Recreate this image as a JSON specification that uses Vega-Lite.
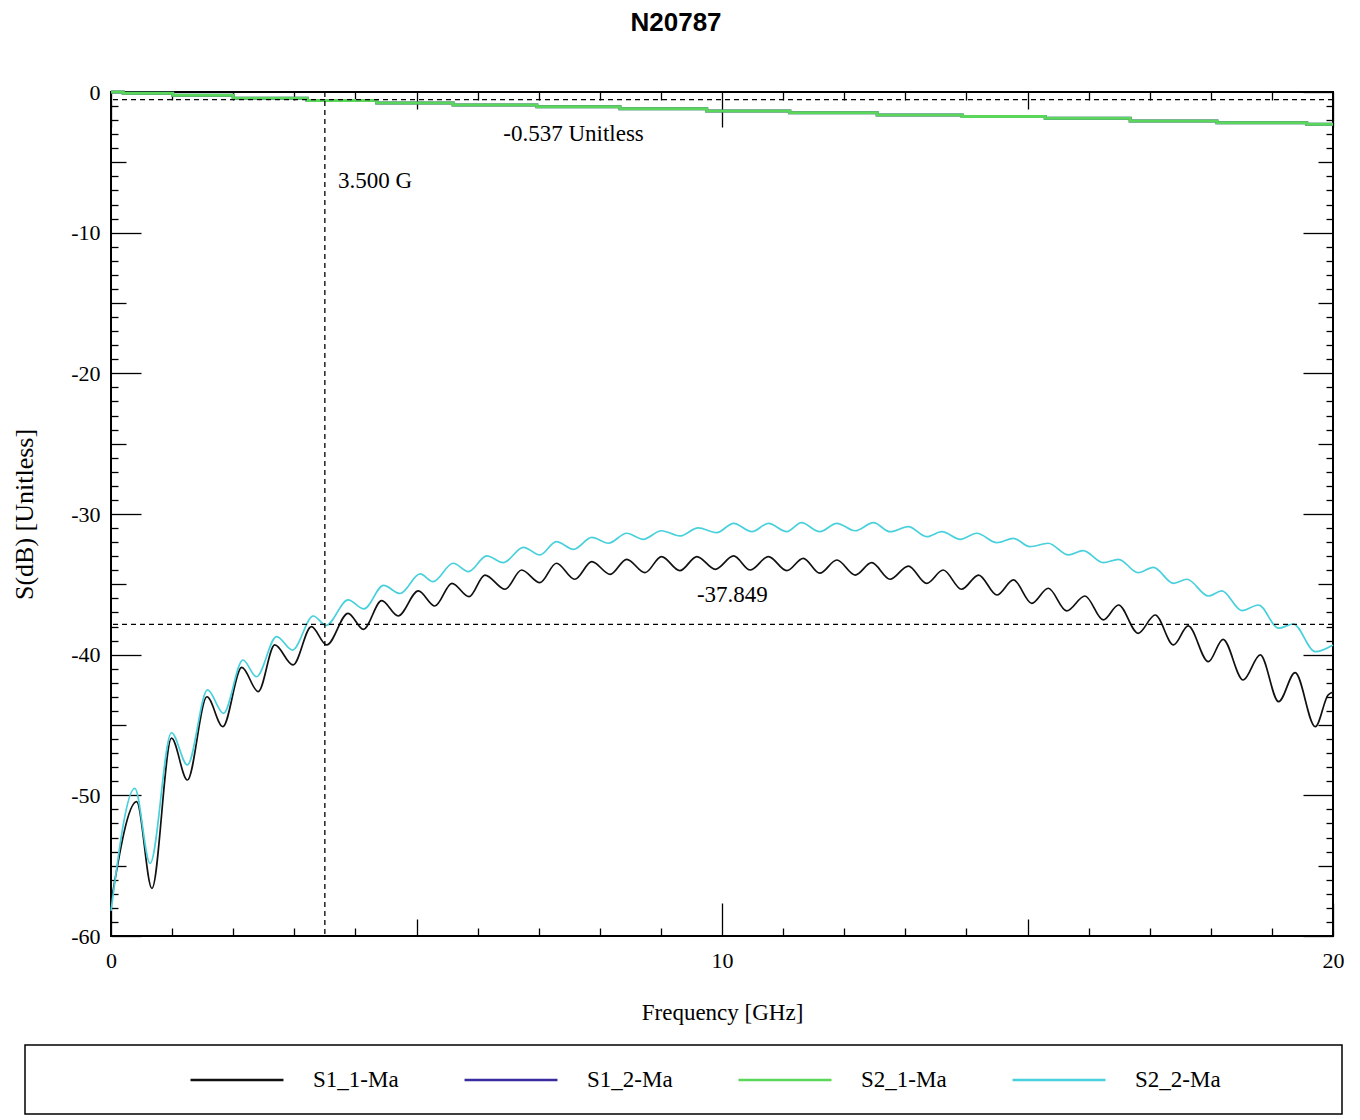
{
  "$schema": "https://vega.github.io/schema/vega-lite/v6.json",
  "width": 1222,
  "height": 844,
  "autosize": {"type": "none"},
  "padding": {"left": 111, "top": 92, "right": 27, "bottom": 184},
  "background": "white",
  "title": {"text": "N20787", "font": "Liberation Sans", "fontSize": 26, "fontWeight": "bold", "color": "#000", "anchor": "middle", "frame": "group", "dx": -46, "offset": 45},
  "datasets": {
    "smooth": [
      {"series": "S1_1-Ma", "f": 0, "db": -57.65}, {"series": "S1_1-Ma", "f": 0.42, "db": -50.45}, {"series": "S1_1-Ma", "f": 0.67, "db": -56.61}, {"series": "S1_1-Ma", "f": 0.99, "db": -45.94}, {"series": "S1_1-Ma", "f": 1.25, "db": -48.91}, {"series": "S1_1-Ma", "f": 1.57, "db": -42.99}, {"series": "S1_1-Ma", "f": 1.83, "db": -45.12}, {"series": "S1_1-Ma", "f": 2.14, "db": -40.9}, {"series": "S1_1-Ma", "f": 2.41, "db": -42.63}, {"series": "S1_1-Ma", "f": 2.68, "db": -39.31}, {"series": "S1_1-Ma", "f": 2.98, "db": -40.73}, {"series": "S1_1-Ma", "f": 3.28, "db": -38.01}, {"series": "S1_1-Ma", "f": 3.53, "db": -39.31}, {"series": "S1_1-Ma", "f": 3.88, "db": -37.06}, {"series": "S1_1-Ma", "f": 4.13, "db": -38.2}, {"series": "S1_1-Ma", "f": 4.43, "db": -36.16}, {"series": "S1_1-Ma", "f": 4.7, "db": -37.25}, {"series": "S1_1-Ma", "f": 5.03, "db": -35.47}, {"series": "S1_1-Ma", "f": 5.3, "db": -36.54}, {"series": "S1_1-Ma", "f": 5.58, "db": -34.93}, {"series": "S1_1-Ma", "f": 5.86, "db": -35.88}, {"series": "S1_1-Ma", "f": 6.12, "db": -34.34}, {"series": "S1_1-Ma", "f": 6.45, "db": -35.35}, {"series": "S1_1-Ma", "f": 6.72, "db": -33.98}, {"series": "S1_1-Ma", "f": 7.02, "db": -34.88}, {"series": "S1_1-Ma", "f": 7.29, "db": -33.5}, {"series": "S1_1-Ma", "f": 7.59, "db": -34.64}, {"series": "S1_1-Ma", "f": 7.87, "db": -33.39}, {"series": "S1_1-Ma", "f": 8.17, "db": -34.29}, {"series": "S1_1-Ma", "f": 8.44, "db": -33.22}, {"series": "S1_1-Ma", "f": 8.74, "db": -34.17}, {"series": "S1_1-Ma", "f": 9.01, "db": -33.03}, {"series": "S1_1-Ma", "f": 9.31, "db": -34.03}, {"series": "S1_1-Ma", "f": 9.59, "db": -33.03}, {"series": "S1_1-Ma", "f": 9.89, "db": -33.93}, {"series": "S1_1-Ma", "f": 10.19, "db": -32.98}, {"series": "S1_1-Ma", "f": 10.46, "db": -33.98}, {"series": "S1_1-Ma", "f": 10.76, "db": -33.03}, {"series": "S1_1-Ma", "f": 11.06, "db": -34.03}, {"series": "S1_1-Ma", "f": 11.33, "db": -33.15}, {"series": "S1_1-Ma", "f": 11.6, "db": -34.21}, {"series": "S1_1-Ma", "f": 11.88, "db": -33.27}, {"series": "S1_1-Ma", "f": 12.18, "db": -34.34}, {"series": "S1_1-Ma", "f": 12.45, "db": -33.46}, {"series": "S1_1-Ma", "f": 12.75, "db": -34.64}, {"series": "S1_1-Ma", "f": 13.05, "db": -33.7}, {"series": "S1_1-Ma", "f": 13.35, "db": -34.93}, {"series": "S1_1-Ma", "f": 13.62, "db": -33.98}, {"series": "S1_1-Ma", "f": 13.92, "db": -35.35}, {"series": "S1_1-Ma", "f": 14.2, "db": -34.34}, {"series": "S1_1-Ma", "f": 14.5, "db": -35.76}, {"series": "S1_1-Ma", "f": 14.77, "db": -34.69}, {"series": "S1_1-Ma", "f": 15.07, "db": -36.35}, {"series": "S1_1-Ma", "f": 15.34, "db": -35.28}, {"series": "S1_1-Ma", "f": 15.64, "db": -36.89}, {"series": "S1_1-Ma", "f": 15.94, "db": -35.83}, {"series": "S1_1-Ma", "f": 16.24, "db": -37.53}, {"series": "S1_1-Ma", "f": 16.49, "db": -36.47}, {"series": "S1_1-Ma", "f": 16.81, "db": -38.48}, {"series": "S1_1-Ma", "f": 17.09, "db": -37.18}, {"series": "S1_1-Ma", "f": 17.39, "db": -39.31}, {"series": "S1_1-Ma", "f": 17.63, "db": -37.96}, {"series": "S1_1-Ma", "f": 17.96, "db": -40.5}, {"series": "S1_1-Ma", "f": 18.2, "db": -38.91}, {"series": "S1_1-Ma", "f": 18.53, "db": -41.8}, {"series": "S1_1-Ma", "f": 18.81, "db": -40.02}, {"series": "S1_1-Ma", "f": 19.11, "db": -43.34}, {"series": "S1_1-Ma", "f": 19.38, "db": -41.28}, {"series": "S1_1-Ma", "f": 19.71, "db": -45.12}, {"series": "S1_1-Ma", "f": 19.92, "db": -42.87}, {"series": "S1_1-Ma", "f": 20, "db": -42.65},
      {"series": "S2_2-Ma", "f": 0, "db": -58.22}, {"series": "S2_2-Ma", "f": 0.39, "db": -49.5}, {"series": "S2_2-Ma", "f": 0.64, "db": -54.83}, {"series": "S2_2-Ma", "f": 0.99, "db": -45.55}, {"series": "S2_2-Ma", "f": 1.25, "db": -47.84}, {"series": "S2_2-Ma", "f": 1.58, "db": -42.51}, {"series": "S2_2-Ma", "f": 1.84, "db": -44.17}, {"series": "S2_2-Ma", "f": 2.16, "db": -40.38}, {"series": "S2_2-Ma", "f": 2.38, "db": -41.57}, {"series": "S2_2-Ma", "f": 2.71, "db": -38.72}, {"series": "S2_2-Ma", "f": 2.97, "db": -39.67}, {"series": "S2_2-Ma", "f": 3.31, "db": -37.25}, {"series": "S2_2-Ma", "f": 3.52, "db": -37.92}, {"series": "S2_2-Ma", "f": 3.88, "db": -36.11}, {"series": "S2_2-Ma", "f": 4.14, "db": -36.75}, {"series": "S2_2-Ma", "f": 4.46, "db": -35.08}, {"series": "S2_2-Ma", "f": 4.73, "db": -35.65}, {"series": "S2_2-Ma", "f": 5.06, "db": -34.26}, {"series": "S2_2-Ma", "f": 5.27, "db": -34.81}, {"series": "S2_2-Ma", "f": 5.6, "db": -33.5}, {"series": "S2_2-Ma", "f": 5.85, "db": -34.1}, {"series": "S2_2-Ma", "f": 6.15, "db": -32.98}, {"series": "S2_2-Ma", "f": 6.42, "db": -33.46}, {"series": "S2_2-Ma", "f": 6.75, "db": -32.37}, {"series": "S2_2-Ma", "f": 7.02, "db": -32.91}, {"series": "S2_2-Ma", "f": 7.29, "db": -31.97}, {"series": "S2_2-Ma", "f": 7.57, "db": -32.51}, {"series": "S2_2-Ma", "f": 7.87, "db": -31.66}, {"series": "S2_2-Ma", "f": 8.14, "db": -32.08}, {"series": "S2_2-Ma", "f": 8.44, "db": -31.37}, {"series": "S2_2-Ma", "f": 8.71, "db": -31.8}, {"series": "S2_2-Ma", "f": 9.01, "db": -31.19}, {"series": "S2_2-Ma", "f": 9.31, "db": -31.56}, {"series": "S2_2-Ma", "f": 9.61, "db": -30.99}, {"series": "S2_2-Ma", "f": 9.91, "db": -31.33}, {"series": "S2_2-Ma", "f": 10.19, "db": -30.66}, {"series": "S2_2-Ma", "f": 10.49, "db": -31.26}, {"series": "S2_2-Ma", "f": 10.76, "db": -30.66}, {"series": "S2_2-Ma", "f": 11.06, "db": -31.26}, {"series": "S2_2-Ma", "f": 11.3, "db": -30.62}, {"series": "S2_2-Ma", "f": 11.6, "db": -31.26}, {"series": "S2_2-Ma", "f": 11.88, "db": -30.66}, {"series": "S2_2-Ma", "f": 12.18, "db": -31.19}, {"series": "S2_2-Ma", "f": 12.48, "db": -30.62}, {"series": "S2_2-Ma", "f": 12.75, "db": -31.26}, {"series": "S2_2-Ma", "f": 13.05, "db": -30.9}, {"series": "S2_2-Ma", "f": 13.35, "db": -31.61}, {"series": "S2_2-Ma", "f": 13.6, "db": -31.26}, {"series": "S2_2-Ma", "f": 13.9, "db": -31.8}, {"series": "S2_2-Ma", "f": 14.17, "db": -31.37}, {"series": "S2_2-Ma", "f": 14.5, "db": -32.04}, {"series": "S2_2-Ma", "f": 14.77, "db": -31.73}, {"series": "S2_2-Ma", "f": 15.04, "db": -32.32}, {"series": "S2_2-Ma", "f": 15.34, "db": -32.08}, {"series": "S2_2-Ma", "f": 15.67, "db": -32.91}, {"series": "S2_2-Ma", "f": 15.91, "db": -32.61}, {"series": "S2_2-Ma", "f": 16.24, "db": -33.46}, {"series": "S2_2-Ma", "f": 16.49, "db": -33.22}, {"series": "S2_2-Ma", "f": 16.81, "db": -34.17}, {"series": "S2_2-Ma", "f": 17.06, "db": -33.79}, {"series": "S2_2-Ma", "f": 17.39, "db": -34.93}, {"series": "S2_2-Ma", "f": 17.61, "db": -34.64}, {"series": "S2_2-Ma", "f": 17.96, "db": -35.83}, {"series": "S2_2-Ma", "f": 18.18, "db": -35.47}, {"series": "S2_2-Ma", "f": 18.51, "db": -36.87}, {"series": "S2_2-Ma", "f": 18.78, "db": -36.47}, {"series": "S2_2-Ma", "f": 19.11, "db": -38.12}, {"series": "S2_2-Ma", "f": 19.35, "db": -37.82}, {"series": "S2_2-Ma", "f": 19.71, "db": -39.79}, {"series": "S2_2-Ma", "f": 20, "db": -39.31}
    ],
    "steps": [
      {"series": "S1_2-Ma", "f": 0, "db": 0}, {"series": "S1_2-Ma", "f": 0.2, "db": -0.09}, {"series": "S1_2-Ma", "f": 1.01, "db": -0.23}, {"series": "S1_2-Ma", "f": 2.0, "db": -0.45}, {"series": "S1_2-Ma", "f": 3.21, "db": -0.6}, {"series": "S1_2-Ma", "f": 4.35, "db": -0.78}, {"series": "S1_2-Ma", "f": 5.6, "db": -0.92}, {"series": "S1_2-Ma", "f": 6.97, "db": -1.05}, {"series": "S1_2-Ma", "f": 8.33, "db": -1.19}, {"series": "S1_2-Ma", "f": 9.75, "db": -1.35}, {"series": "S1_2-Ma", "f": 11.11, "db": -1.47}, {"series": "S1_2-Ma", "f": 12.54, "db": -1.64}, {"series": "S1_2-Ma", "f": 13.93, "db": -1.74}, {"series": "S1_2-Ma", "f": 15.29, "db": -1.87}, {"series": "S1_2-Ma", "f": 16.68, "db": -2.06}, {"series": "S1_2-Ma", "f": 18.1, "db": -2.18}, {"series": "S1_2-Ma", "f": 19.57, "db": -2.3}, {"series": "S1_2-Ma", "f": 20, "db": -2.3},
      {"series": "S2_1-Ma", "f": 0, "db": 0}, {"series": "S2_1-Ma", "f": 0.2, "db": -0.09}, {"series": "S2_1-Ma", "f": 1.01, "db": -0.23}, {"series": "S2_1-Ma", "f": 2.0, "db": -0.45}, {"series": "S2_1-Ma", "f": 3.21, "db": -0.6}, {"series": "S2_1-Ma", "f": 4.35, "db": -0.78}, {"series": "S2_1-Ma", "f": 5.6, "db": -0.92}, {"series": "S2_1-Ma", "f": 6.97, "db": -1.05}, {"series": "S2_1-Ma", "f": 8.33, "db": -1.19}, {"series": "S2_1-Ma", "f": 9.75, "db": -1.35}, {"series": "S2_1-Ma", "f": 11.11, "db": -1.47}, {"series": "S2_1-Ma", "f": 12.54, "db": -1.64}, {"series": "S2_1-Ma", "f": 13.93, "db": -1.74}, {"series": "S2_1-Ma", "f": 15.29, "db": -1.87}, {"series": "S2_1-Ma", "f": 16.68, "db": -2.06}, {"series": "S2_1-Ma", "f": 18.1, "db": -2.18}, {"series": "S2_1-Ma", "f": 19.57, "db": -2.3}, {"series": "S2_1-Ma", "f": 20, "db": -2.3}
    ],
    "vmarker": [{"f": 3.5}],
    "hmarker": [{"db": -37.849}, {"db": -0.537}],
    "notes": [
      {"f": 3.715, "db": -6.33, "label": "3.500 G"},
      {"f": 6.42, "db": -2.99, "label": "-0.537 Unitless"},
      {"f": 9.59, "db": -35.76, "label": "-37.849"}
    ]
  },
  "layer": [
    {
      "data": {"name": "smooth"},
      "mark": {"type": "line", "interpolate": "monotone", "strokeWidth": 1.7},
      "encoding": {
        "x": {"field": "f", "type": "quantitative", "scale": {"domain": [0, 20], "nice": false, "zero": false},
          "axis": {"orient": "bottom", "values": [0,1,2,3,4,5,6,7,8,9,10,11,12,13,14,15,16,17,18,19,20],
            "labelExpr": "datum.value % 10 === 0 ? datum.label : ''",
            "tickSize": {"expr": "datum.value % 10 === 0 ? -33 : (datum.value % 5 === 0 ? -17 : -8)"},
            "labelPadding": 47, "title": "Frequency [GHz]", "titlePadding": 5, "titleFontSize": 23}},
        "y": {"field": "db", "type": "quantitative", "scale": {"domain": [-60, 0], "nice": false, "zero": false},
          "axis": {"orient": "left", "values": [-60,-59,-58,-57,-56,-55,-54,-53,-52,-51,-50,-49,-48,-47,-46,-45,-44,-43,-42,-41,-40,-39,-38,-37,-36,-35,-34,-33,-32,-31,-30,-29,-28,-27,-26,-25,-24,-23,-22,-21,-20,-19,-18,-17,-16,-15,-14,-13,-12,-11,-10,-9,-8,-7,-6,-5,-4,-3,-2,-1,0],
            "labelExpr": "datum.value % 10 === 0 ? '' + datum.value : ''",
            "tickSize": {"expr": "datum.value % 10 === 0 ? -30 : (datum.value % 5 === 0 ? -15 : -7)"},
            "labelPadding": 41, "title": "S(dB) [Unitless]", "titlePadding": 33, "titleFontSize": 26}},
        "color": {"field": "series", "type": "nominal",
          "scale": {"domain": ["S1_1-Ma", "S1_2-Ma", "S2_1-Ma", "S2_2-Ma"], "range": ["#111111", "#3a2ca0", "#5ad65a", "#48d0dc"]},
          "legend": {"orient": "none", "legendX": -86, "legendY": 953, "direction": "horizontal", "columns": 4,
            "title": "\u00a0", "titleOrient": "left", "titlePadding": 177, "titleFont": "Liberation Serif", "titleFontSize": 23,
            "padding": 22, "strokeColor": "#000", "fillColor": "#fff",
            "symbolType": "M-4,0L4,0M22.03,0", "symbolSize": 540, "symbolStrokeWidth": 2.5,
            "labelFont": "Liberation Serif", "labelFontSize": 23, "labelColor": "#000", "labelOffset": 63, "columnPadding": -72, "labelLimit": 400,
            "encode": {"legend": {"update": {"strokeWidth": {"value": 1.5}}}}}}
      }
    },
    {
      "data": {"name": "steps"},
      "mark": {"type": "line", "interpolate": "step-after", "strokeWidth": 3},
      "encoding": {
        "x": {"field": "f", "type": "quantitative", "scale": {"domain": [0, 20], "nice": false, "zero": false}, "axis": null},
        "y": {"field": "db", "type": "quantitative", "scale": {"domain": [-60, 0], "nice": false, "zero": false}, "axis": null},
        "color": {"field": "series", "type": "nominal"}
      }
    },
    {
      "data": {"name": "vmarker"},
      "mark": {"type": "rule", "color": "#000", "strokeDash": [5, 4], "strokeWidth": 1.3},
      "encoding": {
        "x": {"field": "f", "type": "quantitative", "scale": {"domain": [0, 20], "nice": false, "zero": false},
          "axis": {"orient": "top", "values": [0,1,2,3,4,5,6,7,8,9,10,11,12,13,14,15,16,17,18,19,20], "labels": false, "title": null,
            "tickSize": {"expr": "datum.value % 10 === 0 ? -35 : (datum.value % 5 === 0 ? -17 : -8)"}}}
      }
    },
    {
      "data": {"name": "hmarker"},
      "mark": {"type": "rule", "color": "#000", "strokeDash": [5, 4], "strokeWidth": 1.3},
      "encoding": {
        "y": {"field": "db", "type": "quantitative", "scale": {"domain": [-60, 0], "nice": false, "zero": false},
          "axis": {"orient": "right", "values": [-60,-59,-58,-57,-56,-55,-54,-53,-52,-51,-50,-49,-48,-47,-46,-45,-44,-43,-42,-41,-40,-39,-38,-37,-36,-35,-34,-33,-32,-31,-30,-29,-28,-27,-26,-25,-24,-23,-22,-21,-20,-19,-18,-17,-16,-15,-14,-13,-12,-11,-10,-9,-8,-7,-6,-5,-4,-3,-2,-1,0], "labels": false, "title": null,
            "tickSize": {"expr": "datum.value % 10 === 0 ? -30 : (datum.value % 5 === 0 ? -15 : -7)"}}}
      }
    },
    {
      "data": {"name": "notes"},
      "mark": {"type": "text", "align": "left", "baseline": "middle", "font": "Liberation Serif", "fontSize": 23, "color": "#000"},
      "encoding": {
        "x": {"field": "f", "type": "quantitative", "scale": {"domain": [0, 20], "nice": false, "zero": false}, "axis": null},
        "y": {"field": "db", "type": "quantitative", "scale": {"domain": [-60, 0], "nice": false, "zero": false}, "axis": null},
        "text": {"field": "label"}
      }
    }
  ],
  "resolve": {"axis": {"x": "independent", "y": "independent"}},
  "config": {
    "view": {"stroke": "#000", "strokeWidth": 2},
    "axis": {"grid": false, "domain": false, "labelFont": "Liberation Serif", "labelFontSize": 22, "labelColor": "#000",
      "titleFont": "Liberation Serif", "titleColor": "#000", "titleFontWeight": "normal", "tickColor": "#000", "tickWidth": 1.3,
      "labelFlush": false, "labelOverlap": false}
  }
}
